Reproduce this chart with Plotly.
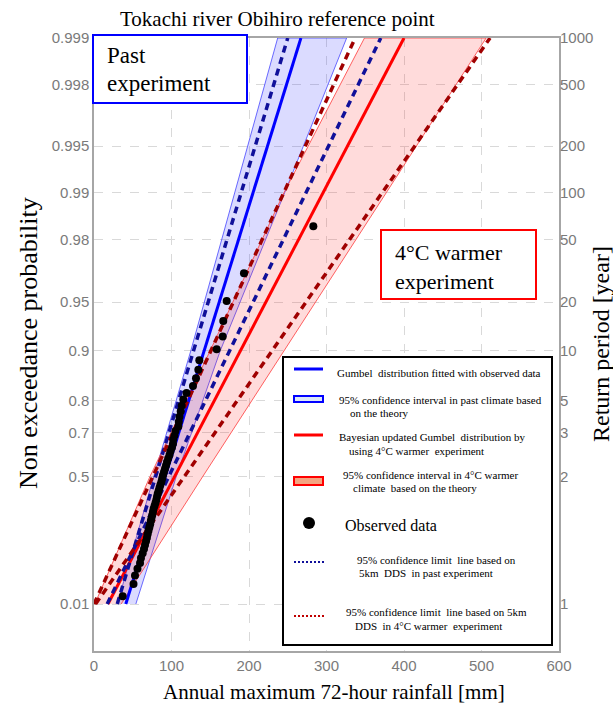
import numpy as np
import plotly.graph_objects as go

# ---------------- data ----------------
# Observed annual maximum 72-hour rainfall [mm], sorted ascending
rain_obs = [37.0, 51.0, 52.9, 56.1, 59.4, 60.6, 62.8, 64.5, 65.8, 67.1,
            68.3, 69.2, 70.3, 71.4, 72.5, 73.3, 74.2, 75.2, 76.1, 76.9,
            78.2, 79.4, 80.5, 81.3, 82.2, 83.4, 84.5, 85.7, 87.0, 88.0,
            89.0, 90.3, 91.6, 92.9, 94.2, 95.7, 97.4, 98.7, 100.6, 101.9,
            102.3, 103.9, 105.2, 108.8, 109.4, 110.3, 111.9, 113.2, 115.2, 119.4,
            127.7, 131.6, 134.6, 135.9, 158.3, 166.1, 166.8, 171.2, 193.5, 283.0]
# Non-exceedance probability (plotting position) of each observation
p_obs = [0.0164, 0.0328, 0.0492, 0.0656, 0.0820, 0.0984, 0.1148, 0.1311, 0.1475, 0.1639,
         0.1803, 0.1967, 0.2131, 0.2295, 0.2459, 0.2623, 0.2787, 0.2951, 0.3115, 0.3279,
         0.3443, 0.3607, 0.3770, 0.3934, 0.4098, 0.4262, 0.4426, 0.4590, 0.4754, 0.4918,
         0.5082, 0.5246, 0.5410, 0.5574, 0.5738, 0.5902, 0.6066, 0.6230, 0.6393, 0.6557,
         0.6721, 0.6885, 0.7049, 0.7213, 0.7377, 0.7541, 0.7705, 0.7869, 0.8033, 0.8197,
         0.8361, 0.8525, 0.8689, 0.8852, 0.9016, 0.9180, 0.9344, 0.9508, 0.9672, 0.9836]

# Straight Gumbel lines: rainfall [mm] at the two ends of the probability range
line_p = [0.01, 0.999]
gumbel_past = [41, 267]        # Gumbel fitted with observed data
gumbel_4c = [18, 400]          # Bayesian updated Gumbel, +4 degC
dds_past_lower = [30, 250]     # 5km DDS 95% limits, past experiment
dds_past_upper = [17, 370]
dds_4c_lower = [0, 337]        # 5km DDS 95% limits, +4 degC experiment
dds_4c_upper = [2, 511]

# 95% confidence intervals based on theory
band_p = [0.01, 0.5, 0.9, 0.99, 0.999]
ci_past_lower = [30, 77, 125, 182, 237]
ci_past_upper = [54, 106, 163, 246, 326]
ci_4c_lower = [1, 72, 150, 245, 349]
ci_4c_upper = [35, 140, 245, 377, 506]

# Axis ticks
prob_ticks = [0.01, 0.5, 0.7, 0.8, 0.9, 0.95, 0.98, 0.99, 0.995, 0.998, 0.999]
prob_labels = ["0.01", "0.5", "0.7", "0.8", "0.9", "0.95", "0.98", "0.99", "0.995", "0.998", "0.999"]
return_labels = ["1", "2", "3", "5", "10", "20", "50", "100", "200", "500", "1000"]
x_ticks = [0, 100, 200, 300, 400, 500, 600]


def gumbel(p):
    """Gumbel reduced variate used as the probability-paper scale."""
    p = np.asarray(p, dtype=float)
    return -np.log(-np.log(p))


# ---------------- figure geometry (pixels) ----------------
W, H = 613, 704
L, R, T, B = 94, 559, 38, 651          # plot-area edges


def X(px):
    return (px - L) / (R - L)


def Y(py):
    return (B - py) / (B - T)


SERIF = "Liberation Serif, Times New Roman, serif"
SANS = "Arial, Liberation Sans, sans-serif"

y_top = float(gumbel(0.999))
y_bot = y_top - (B - T) / ((T - 604) / (float(gumbel(0.01)) - y_top))
y_range = [y_bot, y_top]

fig = go.Figure()


def band(lower, upper, fill, edge):
    xs = list(lower) + list(upper)[::-1]
    ys = list(gumbel(band_p)) + list(gumbel(band_p))[::-1]
    fig.add_trace(go.Scatter(x=xs, y=ys, mode="lines", fill="toself",
                             fillcolor=fill, line=dict(color=edge, width=1),
                             hoverinfo="skip", showlegend=False))


band(ci_past_lower, ci_past_upper, "rgba(40,40,255,0.17)", "rgba(60,60,255,0.75)")
band(ci_4c_lower, ci_4c_upper, "rgba(255,40,40,0.17)", "rgba(255,70,70,0.85)")


def gline(vals, color, width, dash="solid"):
    fig.add_trace(go.Scatter(x=vals, y=gumbel(line_p), mode="lines",
                             line=dict(color=color, width=width, dash=dash),
                             hoverinfo="skip", showlegend=False))


gline(gumbel_past, "#0000ff", 3)
gline(gumbel_4c, "#ff0000", 3)
DASH = "7px,5px"
gline(dds_past_lower, "#10109a", 3.5, DASH)
gline(dds_past_upper, "#10109a", 3.5, DASH)
gline(dds_4c_lower, "#a00000", 3.5, DASH)
gline(dds_4c_upper, "#a00000", 3.5, DASH)

# Observed data on the right-hand (return period) axis so they sit on top
fig.add_trace(go.Scatter(x=rain_obs, y=gumbel(p_obs), yaxis="y2", mode="markers",
                         marker=dict(color="black", size=8),
                         hoverinfo="skip", showlegend=False))

grid = dict(showgrid=True, gridcolor="#d9d9d9", griddash="dash", gridwidth=1)
fig.update_layout(
    width=W, height=H, autosize=False,
    margin=dict(l=L, r=W - R, t=T, b=H - B, pad=0),
    paper_bgcolor="white", plot_bgcolor="white",
    xaxis=dict(range=[0, 600], tickvals=x_ticks, ticks="", zeroline=False,
               showline=True, linecolor="#a6a6a6", linewidth=1.5, mirror=True,
               tickfont=dict(family=SANS, size=15, color="#7a7a7a"), **grid),
    yaxis=dict(range=y_range, tickvals=list(gumbel(prob_ticks)), ticktext=prob_labels,
               ticks="", zeroline=False, showline=True, linecolor="#a6a6a6",
               linewidth=1.5, mirror=True,
               tickfont=dict(family=SANS, size=15, color="#7a7a7a"), **grid),
    yaxis2=dict(range=y_range, overlaying="y", side="right",
                tickvals=list(gumbel(prob_ticks)), ticktext=return_labels,
                ticks="", showgrid=False, zeroline=False, showline=False,
                tickfont=dict(family=SANS, size=15, color="#7a7a7a")),
    showlegend=False,
)

shapes = []
annotations = []


def text(px, py, s, size, anchor="left", angle=0, family=SERIF, color="black"):
    annotations.append(dict(x=X(px), y=Y(py), xref="paper", yref="paper", text=s,
                            showarrow=False, xanchor=anchor, yanchor="middle",
                            textangle=angle, font=dict(family=family, size=size, color=color)))


def rect(x0, y0, x1, y1, line_color, fill="white", lw=2):
    shapes.append(dict(type="rect", xref="paper", yref="paper",
                       x0=X(x0), x1=X(x1), y0=Y(y1), y1=Y(y0),
                       line=dict(color=line_color, width=lw), fillcolor=fill, layer="above"))


def seg(x0, x1, py, color, width, dash="solid"):
    shapes.append(dict(type="line", xref="paper", yref="paper",
                       x0=X(x0), x1=X(x1), y0=Y(py), y1=Y(py),
                       line=dict(color=color, width=width, dash=dash), layer="above"))


# Titles
text(277, 19, "Tokachi river Obihiro reference point", 21, anchor="center")
text(334, 692, "Annual maximum 72-hour rainfall [mm]", 21, anchor="center")
text(28, 343, "Non exceedance probability", 26, anchor="center", angle=-90)
text(601, 344, "Return period [year]", 24, anchor="center", angle=-90)

# Experiment labels
rect(93, 35, 247, 103, "#0000ff")
text(105, 56, "Past", 23)
text(105, 83, "experiment", 23)
rect(381, 230, 536, 299, "#ff0000")
text(393, 252, "4°C warmer", 22)
text(393, 281, "experiment", 22)

# Legend box
rect(283, 357, 552, 645, "black", lw=2)
LF = 11
seg(294, 323, 369, "#0000ff", 3)
text(335, 373, "Gumbel  distribution fitted with observed data", LF)
rect(294, 396, 323, 402, "#0000ff", fill="#dde8f8", lw=2)
text(337, 400, "95% confidence interval in past climate based", LF)
text(348, 413, "on the theory", LF)
seg(294, 323, 435, "#ff0000", 3)
text(337, 437, "Bayesian updated Gumbel  distribution by", LF)
text(347, 451, "using 4°C warmer  experiment", LF)
rect(294, 477, 323, 485, "#ff0000", fill="#f4a582", lw=2)
text(341, 475, "95% confidence interval in 4°C warmer", LF)
text(351, 488, "climate  based on the theory", LF)
shapes.append(dict(type="circle", xref="paper", yref="paper", x0=X(303), x1=X(315),
                   y0=Y(529), y1=Y(517), fillcolor="black", line=dict(color="black", width=0),
                   layer="above"))
text(343, 525, "Observed data", 16)
seg(294, 325, 562, "#10109a", 2, "2px,2px")
text(355, 560, "95% confidence limit  line based on", LF)
text(357, 573, "5km  DDS  in past experiment", LF)
seg(294, 325, 616, "#c00000", 2, "2px,2px")
text(344, 612, "95% confidence limit  line based on 5km", LF)
text(353, 626, "DDS  in 4°C warmer  experiment", LF)

fig.update_layout(shapes=shapes, annotations=annotations)
fig.write_html("out.html")
